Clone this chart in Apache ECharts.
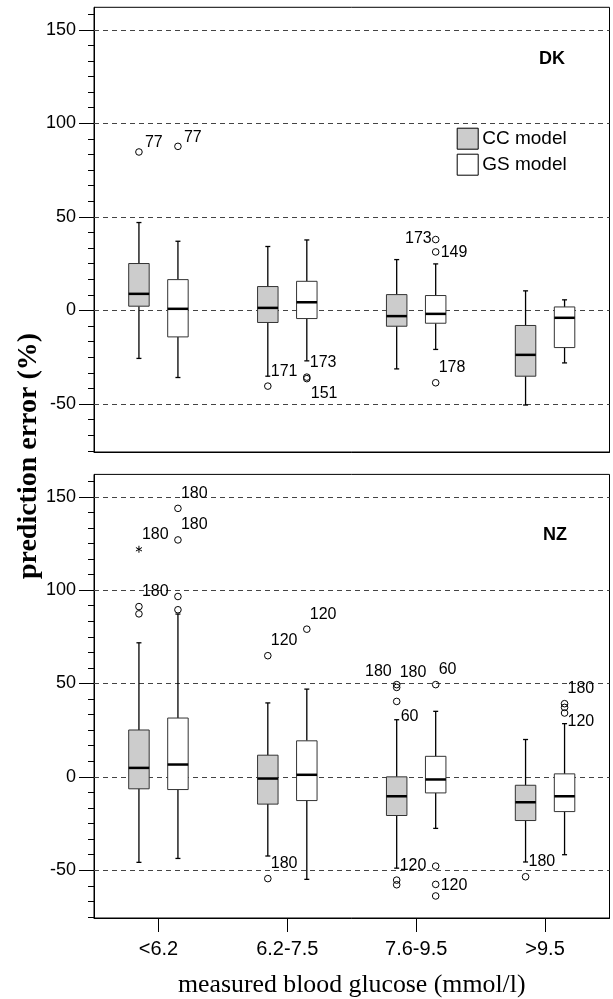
<!DOCTYPE html>
<html>
<head>
<meta charset="utf-8">
<script src="https://cdn.jsdelivr.net/npm/echarts@6/dist/echarts.min.js"></script>
<style>
html,body{margin:0;padding:0;background:#fff;}
#chart{width:613px;height:999px;}
</style>
</head>
<body>
<div id="chart"></div>
<script>
// ---------- data ----------
const categories = ['<6.2', '6.2-7.5', '7.6-9.5', '>9.5'];
const yTickLabels = [-50, 0, 50, 100, 150];
const gridLineValues = [-50, 0, 50, 100, 150];

// [min, Q1, median, Q3, max] per category
const dkCC = [[-25.6, 2.3, 8.9, 25.1, 47.0], [-35.1, -6.4, 1.4, 12.8, 34.2], [-31.2, -8.4, -3.0, 8.5, 27.2], [-50.5, -35.1, -23.7, -8.0, 10.5]];
const dkGS = [[-35.8, -14.1, 0.9, 16.5, 37.0], [-26.9, -4.3, 4.4, 15.6, 37.7], [-20.8, -6.8, -1.8, 8.0, 24.9], [-28.0, -19.8, -3.9, 1.9, 5.7]];
const nzCC = [[-45.8, -6.4, 4.8, 25.1, 71.8], [-42.4, -14.6, -0.9, 11.6, 39.6], [-48.9, -20.7, -10.4, 0.0, 30.6], [-45.6, -23.4, -13.6, -4.5, 20.0]];
const nzGS = [[-43.7, -6.8, 6.6, 31.5, 87.2], [-54.9, -12.7, 1.1, 19.3, 47.0], [-27.6, -8.6, -1.4, 11.0, 35.1], [-41.7, -18.6, -10.4, 1.6, 28.5]];

// outliers: [categoryIndex, value]
const dkCCOut = [[0, 84.7], [1, -40.4]];
const dkCCOutLabels = ['77', '171'];
const dkGSOut = [[0, 87.7], [1, -35.6], [1, -36.4], [2, 37.9], [2, 31.3], [2, -38.6]];
const dkGSOutLabels = ['77', '173', '151', '173', '149', '178'];
const nzCCOut = [[0, 91.2], [0, 87.3], [1, 64.9], [1, -54.5], [2, 49.4], [2, 47.9], [2, 40.4], [2, -55.3], [2, -57.8], [3, -53.5]];
const nzCCOutLabels = ['180', '', '120', '180', '180', '180', '60', '120', '', '180'];
const nzCCExtremes = [[0, 121.9]];
const nzCCExtremeLabels = ['180'];
const nzGSOut = [[0, 143.8], [0, 126.9], [0, 96.6], [0, 89.5], [1, 79.1], [2, 49.4], [2, -47.8], [2, -57.6], [2, -63.8], [3, 39.2], [3, 37.2], [3, 34.2]];
const nzGSOutLabels = ['180', '180', '', '', '120', '60', '', '120', '', '180', '', '120'];

// label placement (style only)
const dkCCOutPos = ['ur2', 'ur'];
const dkGSOutPos = ['ur2', 'ur', 'dr', 'l', 'r', 'ur'];
const nzCCOutPos = ['ur', '', 'ur', 'ur', 'ul', 'ur', 'dr', 'ur', '', 'ur'];
const nzCCExtremePos = ['ur'];
const nzGSOutPos = ['ur', 'ur', '', '', 'ur', 'ur', '', 'r', '', 'ur', '', 'dr2'];

// ---------- styling ----------
const SANS = '"Liberation Sans", Arial, Helvetica, sans-serif';
const SERIF = '"Liberation Serif", "Times New Roman", serif';
const BOX_OFFSET = 0.1513;
const BOX_FRAC = 0.159;
const Y_MIN = -75.6, Y_MAX = 162;
const LABEL_POS = {
  ur: [3, -15, 'left'], ur2: [6, -9, 'left'], ul: [-5, -13, 'right'],
  dr: [4, 15, 'left'], dr2: [3, 9, 'left'], r: [5, 1, 'left'], l: [-4, -1, 'right']
};
const minorTicks = [];
for (let k = -9; k * 50 / 6 <= Y_MAX; k++) minorTicks.push(k * 50 / 6);

function boxRenderer(offsetFrac, fill) {
  return function (params, api) {
    const cat = api.value(0);
    const band = api.size([1, 0])[0];
    const cx = api.coord([cat, 0])[0] + offsetFrac * band;
    const hw = band * BOX_FRAC / 2;
    const y = i => api.coord([cat, api.value(i)])[1];
    const yMin = y(1), yQ1 = y(2), yMed = y(3), yQ3 = y(4), yMax = y(5);
    const cap = 2.5;
    const ls = { stroke: '#000', lineWidth: 1.3 };
    return {
      type: 'group',
      children: [
        { type: 'line', shape: { x1: cx, y1: yMax, x2: cx, y2: yQ3 }, style: ls },
        { type: 'line', shape: { x1: cx, y1: yQ1, x2: cx, y2: yMin }, style: ls },
        { type: 'line', shape: { x1: cx - cap, y1: yMax, x2: cx + cap, y2: yMax }, style: ls },
        { type: 'line', shape: { x1: cx - cap, y1: yMin, x2: cx + cap, y2: yMin }, style: ls },
        { type: 'rect', shape: { x: cx - hw, y: yQ3, width: 2 * hw, height: yQ1 - yQ3 }, style: { fill: fill, stroke: '#333', lineWidth: 1 } },
        { type: 'line', shape: { x1: cx - hw, y1: yMed, x2: cx + hw, y2: yMed }, style: { stroke: '#000', lineWidth: 2.5 } }
      ]
    };
  };
}

function pointRenderer(offsetFrac, labels, positions, kind) {
  return function (params, api) {
    const cat = api.value(0);
    const band = api.size([1, 0])[0];
    const p = api.coord([cat, api.value(1)]);
    const cx = p[0] + offsetFrac * band;
    const cy = p[1];
    const children = [];
    if (kind === 'star') {
      const r = 3.5;
      [90, 30, 150].forEach(function (a) {
        const rad = a * Math.PI / 180;
        children.push({ type: 'line', shape: { x1: cx - r * Math.cos(rad), y1: cy - r * Math.sin(rad), x2: cx + r * Math.cos(rad), y2: cy + r * Math.sin(rad) }, style: { stroke: '#000', lineWidth: 1 } });
      });
    } else {
      children.push({ type: 'circle', shape: { cx: cx, cy: cy, r: 3.3 }, style: { fill: 'none', stroke: '#000', lineWidth: 1 } });
    }
    const txt = labels[params.dataIndex];
    const pos = LABEL_POS[positions[params.dataIndex]];
    if (txt && pos) {
      children.push({ type: 'text', x: cx + pos[0], y: cy + pos[1], style: { text: txt, fill: '#000', font: '16px ' + SANS, align: pos[2], verticalAlign: 'middle' } });
    }
    return { type: 'group', children: children };
  };
}

function boxSeries(name, arr, offset, fill, gridIdx) {
  return {
    type: 'custom', name: name, xAxisIndex: gridIdx, yAxisIndex: gridIdx * 2,
    renderItem: boxRenderer(offset, fill),
    itemStyle: { color: fill, borderColor: '#000', borderWidth: 1 },
    encode: { x: 0, y: [1, 2, 3, 4, 5] },
    data: arr.map((v, i) => [i].concat(v)),
    z: 3, silent: true
  };
}
function pointSeries(arr, labels, positions, offset, gridIdx, kind) {
  return {
    type: 'custom', xAxisIndex: gridIdx, yAxisIndex: gridIdx * 2,
    renderItem: pointRenderer(offset, labels, positions, kind),
    encode: { x: 0, y: 1 },
    data: arr, z: 4, silent: true
  };
}
function gridLineSeries(gridIdx) {
  return {
    type: 'line', xAxisIndex: gridIdx, yAxisIndex: gridIdx * 2, data: [], silent: true, z: 1,
    markLine: {
      silent: true, z: 1, symbol: ['none', 'none'], label: { show: false },
      lineStyle: { type: [5, 4], color: '#444', width: 1 },
      data: gridLineValues.map(v => ({ yAxis: v }))
    }
  };
}

const grids = [
  { left: 94, top: 7.3, width: 515.5, height: 444.7 },
  { left: 94, top: 474.4, width: 515.5, height: 444.8 }
];

function yAxes(gridIdx) {
  return [
    {
      gridIndex: gridIdx, type: 'value', min: Y_MIN, max: Y_MAX, position: 'left',
      axisLine: { show: true, onZero: false, lineStyle: { color: '#000', width: 1 } },
      axisTick: { show: true, customValues: yTickLabels, length: 15, lineStyle: { color: '#000', width: 1 } },
      axisLabel: { show: true, customValues: yTickLabels, fontSize: 18, fontFamily: SANS, color: '#000', margin: 18 },
      splitLine: { show: false }
    },
    {
      gridIndex: gridIdx, type: 'value', min: Y_MIN, max: Y_MAX, position: 'left', offset: 0,
      axisLine: { show: false, onZero: false },
      axisTick: { show: true, customValues: minorTicks, length: 6, lineStyle: { color: '#000', width: 1 } },
      axisLabel: { show: false },
      splitLine: { show: false }
    }
  ];
}

const option = {
  animation: false,
  backgroundColor: '#fff',
  grid: grids.map(g => Object.assign({ show: true, borderColor: '#000', borderWidth: 1, backgroundColor: 'transparent' }, g)),
  xAxis: [
    {
      gridIndex: 0, type: 'category', data: categories, position: 'bottom',
      axisLine: { show: true, onZero: false, lineStyle: { color: '#000' } },
      axisTick: { show: false }, axisLabel: { show: false }, splitLine: { show: false }
    },
    {
      gridIndex: 1, type: 'category', data: categories, position: 'bottom',
      axisLine: { show: true, onZero: false, lineStyle: { color: '#000' } },
      axisTick: { show: true, alignWithLabel: true, length: 14, lineStyle: { color: '#000' } },
      axisLabel: { show: true, fontSize: 20, fontFamily: SANS, color: '#000', margin: 21 },
      splitLine: { show: false },
      name: 'measured blood glucose (mmol/l)', nameLocation: 'middle', nameGap: 54,
      nameTextStyle: { fontSize: 25.8, fontFamily: SERIF, color: '#000' }
    }
  ],
  yAxis: yAxes(0).concat(yAxes(1)),
  legend: {
    show: true, orient: 'vertical', left: 456.7, top: 127.7, padding: 0,
    itemWidth: 21, itemHeight: 21, itemGap: 4, icon: 'rect', selectedMode: false,
    textStyle: { fontSize: 19, fontFamily: SANS, color: '#000', padding: [0, 0, 0, -1] },
    data: [
      { name: 'CC model', itemStyle: { color: '#cccccc', borderColor: '#000', borderWidth: 1 } },
      { name: 'GS model', itemStyle: { color: '#ffffff', borderColor: '#000', borderWidth: 1 } }
    ]
  },
  graphic: [
    { type: 'text', x: 29, y: 456, rotation: Math.PI / 2, style: { text: 'prediction error (%)', font: 'bold 28px ' + SERIF, fill: '#000', align: 'center', verticalAlign: 'middle' } },
    { type: 'text', x: 552, y: 59, style: { text: 'DK', font: 'bold 18px ' + SANS, fill: '#000', align: 'center', verticalAlign: 'middle' } },
    { type: 'text', x: 555, y: 535, style: { text: 'NZ', font: 'bold 18px ' + SANS, fill: '#000', align: 'center', verticalAlign: 'middle' } }
  ],
  series: [
    gridLineSeries(0),
    gridLineSeries(1),
    boxSeries('CC model', dkCC, -BOX_OFFSET, '#cccccc', 0),
    boxSeries('GS model', dkGS, BOX_OFFSET, '#ffffff', 0),
    boxSeries('CC model', nzCC, -BOX_OFFSET, '#cccccc', 1),
    boxSeries('GS model', nzGS, BOX_OFFSET, '#ffffff', 1),
    pointSeries(dkCCOut, dkCCOutLabels, dkCCOutPos, -BOX_OFFSET, 0, 'circle'),
    pointSeries(dkGSOut, dkGSOutLabels, dkGSOutPos, BOX_OFFSET, 0, 'circle'),
    pointSeries(nzCCOut, nzCCOutLabels, nzCCOutPos, -BOX_OFFSET, 1, 'circle'),
    pointSeries(nzCCExtremes, nzCCExtremeLabels, nzCCExtremePos, -BOX_OFFSET, 1, 'star'),
    pointSeries(nzGSOut, nzGSOutLabels, nzGSOutPos, BOX_OFFSET, 1, 'circle')
  ]
};

const chart = echarts.init(document.getElementById('chart'), null, { renderer: 'canvas' });
chart.setOption(option);
</script>
</body>
</html>
